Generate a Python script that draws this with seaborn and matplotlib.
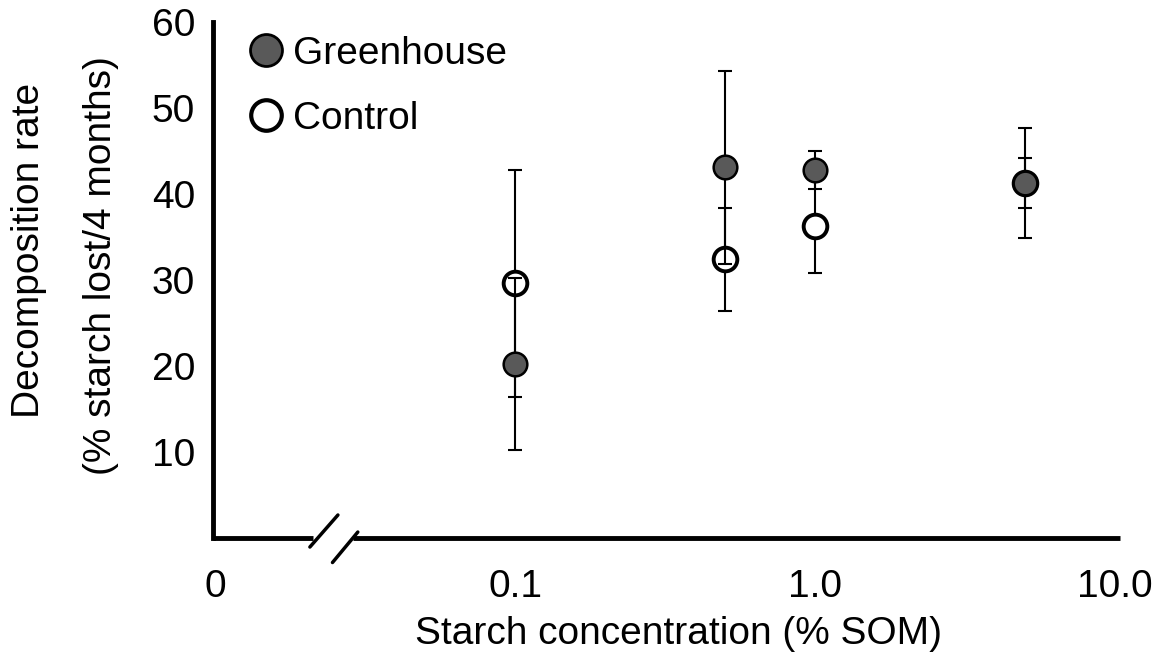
import numpy as np
import pandas as pd
import seaborn as sns
import matplotlib.pyplot as plt
from matplotlib.lines import Line2D

# data
concentration = [0.1, 0.5, 1.0, 5.0]
greenhouse_mean = [20.2, 43.1, 42.8, 41.3]
greenhouse_err = [10.0, 11.2, 2.2, 2.9]
control_mean = [29.6, 32.4, 36.3, 41.3]
control_err = [13.2, 6.0, 5.5, 6.4]

x_ticks = [0.01, 0.1, 1.0, 10.0]
x_tick_labels = ["0", "0.1", "1.0", "10.0"]
y_ticks = [10, 20, 30, 40, 50, 60]

df = pd.DataFrame({
    "conc": concentration * 2,
    "rate": greenhouse_mean + control_mean,
    "err": greenhouse_err + control_err,
    "group": ["Greenhouse"] * 4 + ["Control"] * 4,
})

sns.set_style("white")
plt.rcParams["font.family"] = ["Liberation Sans", "DejaVu Sans"]
plt.rcParams["text.color"] = "black"
plt.rcParams["axes.labelcolor"] = "black"

FS = 28

fig = plt.figure(figsize=(11.52, 6.58), dpi=100)
ax = fig.add_axes([0.185, 0.182, 0.785, 0.785])

ctrl = df[df.group == "Control"]
gh = df[df.group == "Greenhouse"]

# control first, greenhouse drawn on top
ax.errorbar(ctrl.conc, ctrl.rate, yerr=ctrl.err, fmt="none", ecolor="black",
            elinewidth=1.5, capsize=5, capthick=1.5, zorder=2)
sns.scatterplot(data=ctrl, x="conc", y="rate", ax=ax, s=290, color="white",
                edgecolor="black", linewidth=2.8, zorder=3, legend=False)
ax.errorbar(gh.conc, gh.rate, yerr=gh.err, fmt="none", ecolor="black",
            elinewidth=1.5, capsize=5, capthick=1.5, zorder=4)
sns.scatterplot(data=gh, x="conc", y="rate", ax=ax, s=290, color="#595959",
                edgecolor="black", linewidth=1.8, zorder=5, legend=False)

ax.set_xscale("log")
ax.set_xlim(0.0098, 10.2)
ax.set_ylim(0, 60)
ax.set_xticks(x_ticks)
ax.set_xticklabels(x_tick_labels)
ax.minorticks_off()
ax.set_yticks(y_ticks)
ax.set_xlabel("")
ax.set_ylabel("")

ax.tick_params(axis="both", direction="in", length=6, width=3, labelsize=FS,
               colors="black")
ax.tick_params(axis="x", pad=22)
ax.tick_params(axis="y", pad=13)

for side in ["top", "right", "bottom"]:
    ax.spines[side].set_visible(False)
ax.spines["left"].set_linewidth(3.5)
ax.spines["left"].set_color("black")

# bottom axis with a break
kw = dict(transform=ax.transAxes, color="black", clip_on=False)
ax.plot([0, 0.111], [0, 0], lw=3.5, solid_capstyle="butt", **kw)
ax.plot([0.155, 1.003], [0, 0], lw=3.5, solid_capstyle="butt", **kw)
ax.plot([0.107, 0.138], [-0.017, 0.045], lw=2.5, **kw)
ax.plot([0.132, 0.160], [-0.047, 0.012], lw=2.5, **kw)

# axis titles
fig.text(0.589, 0.036, "Starch concentration (% SOM)", fontsize=FS,
         ha="center", va="center")
fig.text(0.025, 0.620, "Decomposition rate", fontsize=FS, rotation=90,
         ha="center", va="center")
fig.text(0.088, 0.596, "(% starch lost/4 months)", fontsize=FS, rotation=90,
         ha="center", va="center")

handles = [
    Line2D([], [], marker="o", linestyle="none", markersize=23,
           markerfacecolor="#595959", markeredgecolor="black",
           markeredgewidth=2.0, label="Greenhouse"),
    Line2D([], [], marker="o", linestyle="none", markersize=22,
           markerfacecolor="white", markeredgecolor="black",
           markeredgewidth=3.0, label="Control"),
]
ax.legend(handles=handles, loc="upper left", bbox_to_anchor=(0.011, 1.018),
          frameon=False, fontsize=FS, handletextpad=0.2, labelspacing=0.74,
          borderaxespad=0.2, handlelength=1.0)

fig.savefig("out.png", dpi=100)
